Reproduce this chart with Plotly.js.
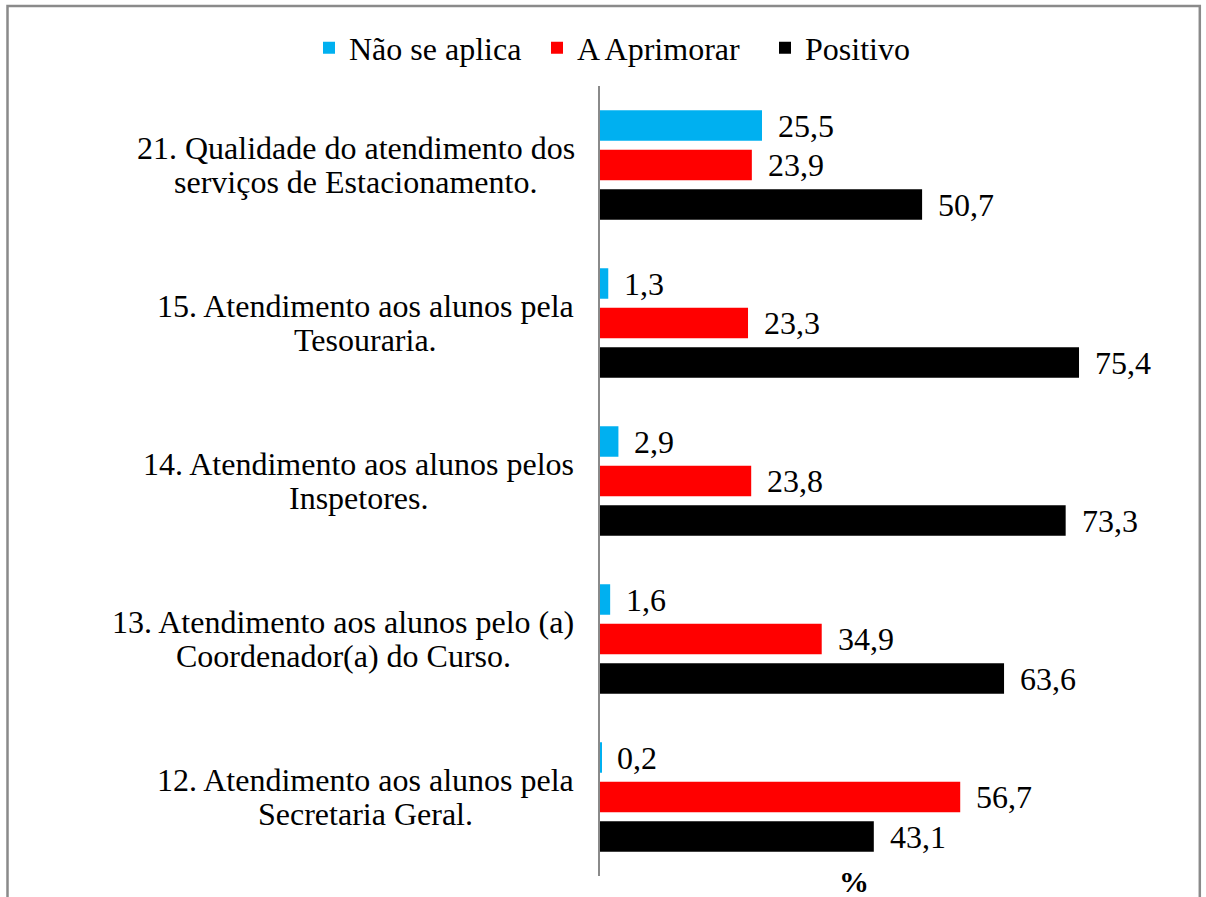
<!DOCTYPE html>
<html>
<head>
<meta charset="utf-8">
<script src="https://cdn.plot.ly/plotly-3.0.1.min.js"></script>
<style>
html,body{margin:0;padding:0;background:#fff;}
#chart{width:1206px;height:897px;}
</style>
</head>
<body>
<div id="chart"></div>
<script>
// Data (bottom to top in the chart)
const categories = ["Q12", "Q13", "Q14", "Q15", "Q21"];
const labelLine1 = [
  "12. Atendimento aos alunos pela",
  "13. Atendimento aos alunos pelo (a)",
  "14. Atendimento aos alunos pelos",
  "15. Atendimento aos alunos pela",
  "21. Qualidade do atendimento dos"
];
const labelLine2 = [
  "Secretaria Geral.",
  "Coordenador(a) do Curso.",
  "Inspetores.",
  "Tesouraria.",
  "serviços de Estacionamento."
];
const naoSeAplica = [0.2, 1.6, 2.9, 1.3, 25.5];
const aAprimorar = [56.7, 34.9, 23.8, 23.3, 23.9];
const positivo = [43.1, 63.6, 73.3, 75.4, 50.7];
const seriesNames = ["Não se aplica", "A Aprimorar", "Positivo"];
const seriesColors = ["#00B0F0", "#FF0000", "#000000"];

const FONT = "Liberation Serif";
const W = 1206, H = 897;
const mL = 600, mR = 6, mT = 86, mB = 21;
const plotW = W - mL - mR, plotH = H - mT - mB;
const pxPerUnit = 6.353;
const xMax = plotW / pxPerUnit;

function pxToPaperX(px){ return (px - mL) / plotW; }
function pxToPaperY(py){ return (H - mB - py) / plotH; }
function fmt(v){ return v.toFixed(1).replace('.', ','); }

const cv = document.createElement('canvas');
const ctx = cv.getContext('2d');
ctx.font = '32px "Liberation Serif"';

const traces = [
  {name: seriesNames[2], x: positivo, color: seriesColors[2]},
  {name: seriesNames[1], x: aAprimorar, color: seriesColors[1]},
  {name: seriesNames[0], x: naoSeAplica, color: seriesColors[0]}
].map(t => ({
  type: 'bar', orientation: 'h', name: t.name, y: categories, x: t.x,
  marker: {color: t.color}, hoverinfo: 'x+name'
}));

const annotations = [];
const slotShift = [-39.5, 0, 39.5]; // positivo, aprimorar, nao se aplica
const seriesVals = [positivo, aAprimorar, naoSeAplica];
seriesVals.forEach((vals, si) => {
  vals.forEach((v, i) => {
    annotations.push({
      x: v, y: i, xref: 'x', yref: 'y',
      text: fmt(v), showarrow: false, xanchor: 'left', yanchor: 'middle',
      xshift: 14, yshift: slotShift[si],
      font: {family: FONT, size: 32, color: '#000'}
    });
  });
});

const rightPx = 575;
categories.forEach((c, i) => {
  const w1 = ctx.measureText(labelLine1[i]).width;
  const w2 = ctx.measureText(labelLine2[i]).width;
  const wMax = Math.max(w1, w2);
  const center = rightPx - wMax / 2;
  annotations.push({
    x: pxToPaperX(center), xref: 'paper', y: i, yref: 'y',
    text: labelLine1[i], showarrow: false, xanchor: 'center', yanchor: 'middle',
    yshift: 17, font: {family: FONT, size: 32, color: '#000'}
  });
  annotations.push({
    x: pxToPaperX(center), xref: 'paper', y: i, yref: 'y',
    text: labelLine2[i], showarrow: false, xanchor: 'center', yanchor: 'middle',
    yshift: -17, font: {family: FONT, size: 32, color: '#000'}
  });
});

annotations.push({
  x: pxToPaperX(854), xref: 'paper', y: pxToPaperY(881), yref: 'paper',
  text: '<b>%</b>', showarrow: false, xanchor: 'center', yanchor: 'middle',
  font: {family: FONT, size: 30, color: '#000'}
});

const layout = {
  width: W, height: H,
  margin: {l: mL, r: mR, t: mT, b: mB, pad: 0},
  paper_bgcolor: '#fff', plot_bgcolor: '#fff',
  barmode: 'group', bargap: 0.25, bargroupgap: 0.228,
  showlegend: true,
  legend: {
    orientation: 'h', traceorder: 'reversed',
    x: pxToPaperX(309), xanchor: 'left', y: pxToPaperY(48), yanchor: 'middle',
    entrywidth: 183, entrywidthmode: 'pixels',
    font: {family: FONT, size: 32, color: '#000'},
    bgcolor: 'rgba(0,0,0,0)', itemclick: false
  },
  xaxis: {
    range: [0, xMax], showgrid: false, zeroline: false, showline: false,
    showticklabels: false, ticks: '', fixedrange: true
  },
  yaxis: {
    type: 'category', categoryorder: 'array', categoryarray: categories,
    range: [-0.5, 4.5], showgrid: false, zeroline: false,
    showline: true, linecolor: '#8a8a8a', linewidth: 1.5,
    showticklabels: false, ticks: '', fixedrange: true
  },
  annotations: annotations,
  shapes: [{
    type: 'path', xref: 'paper', yref: 'paper',
    path: 'M ' + pxToPaperX(7.5) + ' ' + pxToPaperY(905) +
          ' L ' + pxToPaperX(7.5) + ' ' + pxToPaperY(6) +
          ' L ' + pxToPaperX(1199.8) + ' ' + pxToPaperY(6) +
          ' L ' + pxToPaperX(1199.8) + ' ' + pxToPaperY(905),
    line: {color: '#8a8a8a', width: 2.5}
  }],
  font: {family: FONT, color: '#000'}
};

Plotly.newPlot('chart', traces, layout, {displayModeBar: false});
</script>
</body>
</html>
